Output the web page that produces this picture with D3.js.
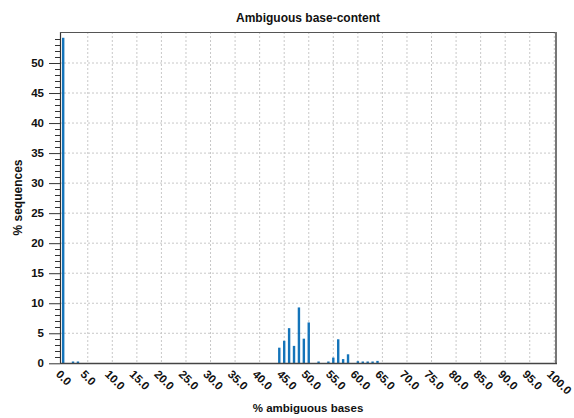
<!DOCTYPE html>
<html>
<head>
<meta charset="utf-8">
<script src="https://cdn.jsdelivr.net/npm/d3@7"></script>
<style>
  body { margin: 0; background: #fff; }
  text { font-family: "Liberation Sans", Arial, sans-serif; font-weight: bold; fill: #111; }
</style>
</head>
<body>
<div id="chart"></div>
<script>
// % ambiguous bases (bin) and % sequences
var bins   = [0, 2, 3, 44, 45, 46, 47, 48, 49, 50, 52, 54, 55, 56, 57, 58, 60, 61, 62, 63, 64];
var shares = [54.2, 0.3, 0.3, 2.6, 3.75, 5.85, 2.9, 9.3, 4.1, 6.8, 0.3, 0.3, 0.95, 4.0, 0.7, 1.5, 0.35, 0.3, 0.3, 0.3, 0.4];
var xTicks = d3.range(0, 101, 5);
var yTicks = d3.range(0, 51, 5);
var yMinor = d3.range(0, 56, 1);

var width = 574, height = 418;
var box = {left: 60, right: 556, top: 32, bottom: 363};

var x = d3.scaleLinear().domain([0, 100]).range([63.2, 554.3]);
var y = d3.scaleLinear().domain([0, 50]).range([363.3, 63]);

var svg = d3.select("#chart").append("svg")
    .attr("width", width)
    .attr("height", height);

// grid
svg.append("g").selectAll("line")
    .data(xTicks.slice(1))
    .enter().append("line")
    .attr("x1", d => x(d)).attr("x2", d => x(d))
    .attr("y1", box.top).attr("y2", box.bottom)
    .style("stroke", "#c8c8c8").style("stroke-dasharray", "2,2");

svg.append("g").selectAll("line")
    .data(yTicks.slice(1))
    .enter().append("line")
    .attr("x1", box.left).attr("x2", box.right)
    .attr("y1", d => y(d)).attr("y2", d => y(d))
    .style("stroke", "#c8c8c8").style("stroke-dasharray", "2,2");

// y axis with minor ticks
var yAxis = d3.axisLeft(y).tickValues(yTicks).tickSize(11).tickPadding(5).tickFormat(d3.format("d"));
var gy = svg.append("g").attr("transform", "translate(" + box.left + ",0)").call(yAxis);
gy.select(".domain").remove();
gy.selectAll("text").style("font-size", "11.5px").style("font-family", "Liberation Sans, Arial, sans-serif").style("font-weight", "bold");
gy.selectAll(".tick line").style("stroke", "#333");

svg.append("g").selectAll("line")
    .data(yMinor.filter(d => d % 5 != 0))
    .enter().append("line")
    .attr("x1", box.left - 5).attr("x2", box.left)
    .attr("y1", d => Math.round(y(d)) + 0.5).attr("y2", d => Math.round(y(d)) + 0.5)
    .style("stroke", "#333");

svg.append("line").attr("x1", box.left + 0.5).attr("x2", box.left + 0.5).attr("y1", box.top).attr("y2", box.bottom)
    .style("stroke", "#333").style("stroke-width", 1.2);

// bars
var data = bins.map((b, i) => ({bin: b, v: shares[i]}));
svg.append("g").selectAll("rect")
    .data(data)
    .enter().append("rect")
    .attr("x", d => x(d.bin) - 1.2)
    .attr("width", 2.4)
    .attr("y", d => y(d.v))
    .attr("height", d => y(0) - y(d.v))
    .style("fill", "#1474ba");

// frame
svg.append("line").attr("x1", box.left).attr("x2", box.right).attr("y1", box.top + 0.5).attr("y2", box.top + 0.5)
    .style("stroke", "#555").style("stroke-width", 1);
svg.append("line").attr("x1", box.right).attr("x2", box.right).attr("y1", box.top).attr("y2", box.bottom)
    .style("stroke", "#777").style("stroke-width", 2);

// x axis
svg.append("line").attr("x1", box.left).attr("x2", box.right + 1).attr("y1", box.bottom + 0.5).attr("y2", box.bottom + 0.5)
    .style("stroke", "#444").style("stroke-width", 1.4);

svg.append("g").selectAll("text")
    .data(xTicks)
    .enter().append("text")
    .attr("transform", d => "translate(" + (x(d) - 8) + "," + (box.bottom + 12) + ") rotate(45)")
    .style("font-size", "11.5px")
    .text(d => d3.format(".1f")(d));

// titles
svg.append("text")
    .attr("x", (box.left + box.right) / 2).attr("y", 22)
    .attr("text-anchor", "middle")
    .style("font-size", "12px")
    .text("Ambiguous base-content");

svg.append("text")
    .attr("x", (box.left + box.right) / 2).attr("y", 412)
    .attr("text-anchor", "middle")
    .style("font-size", "11.5px")
    .text("% ambiguous bases");

svg.append("text")
    .attr("transform", "translate(22," + (box.top + box.bottom) / 2 + ") rotate(-90)")
    .attr("text-anchor", "middle")
    .style("font-size", "12px")
    .text("% sequences");
</script>
</body>
</html>
